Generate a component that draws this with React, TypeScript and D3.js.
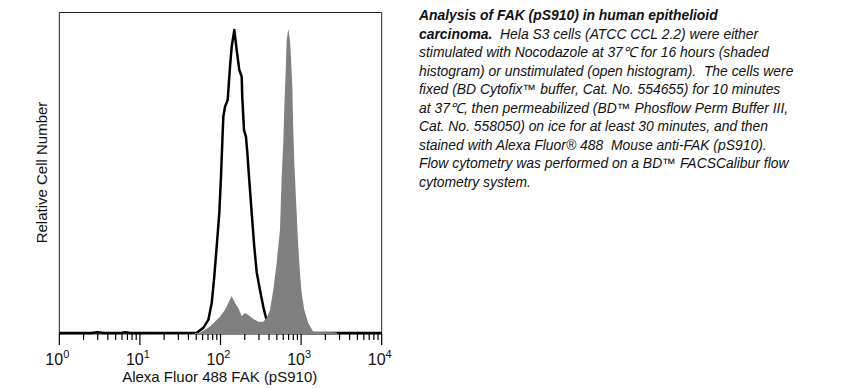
import React from "react";
import * as d3 from "d3";

// Open histogram (unstimulated): fluorescence intensity vs relative count
const openIntensity = [1, 2.5, 3.0, 3.6, 5.8, 6.6, 7.6, 50.7, 61.2, 70.6, 77.8, 83.0, 89.7, 96.6, 101.4, 105.2, 108.4, 113.8, 122.7, 131.2, 137.7, 148.3, 158.9, 171.0, 183.2, 186.2, 195.9, 207.0, 215.3, 225.9, 243.8, 262.4, 281.2, 309.0, 339.6, 363.9, 411.1, 516.4, 10000];
const openCount = [0, 0, 0.25, 0, 0, 0.25, 0, 0.1, 1.6, 4.1, 9.4, 16.6, 27, 37.5, 48.8, 59.4, 67.6, 70.7, 72.8, 83.2, 89.5, 94.7, 88.4, 82.2, 80.1, 73.8, 63.4, 61.3, 56.3, 48.8, 37.5, 27, 19, 13.4, 8.2, 5.1, 1.9, 0, 0];

// Shaded histogram (Nocodazole stimulated)
const shadedIntensity = [48.3, 55.7, 74.1, 98.6, 113.8, 125.0, 137.7, 151.4, 166.3, 183.2, 201.4, 221.3, 255.3, 294.4, 339.6, 374.1, 411.1, 451.9, 497.7, 521.2, 547.0, 574.1, 601.2, 619.4, 644.2, 662.2, 693.4, 727.8, 748.2, 778.0, 799.8, 824.1, 839.5, 881.0, 922.6, 968.3, 1016, 1096, 1227, 1416, 1714, 2630, 2818];
const shadedCount = [0, 0.1, 2.0, 5.1, 7.3, 9.4, 11.6, 9.4, 7.8, 5.3, 6.25, 5.6, 4.4, 3.5, 3.5, 4.7, 7.2, 13.4, 21.9, 27, 32.2, 48.8, 59.4, 70.7, 82.2, 91.6, 95, 91.6, 86.4, 77, 63.4, 53.1, 48.8, 37.5, 27, 18.75, 12.5, 7.2, 3.1, 0.4, 0.3, 0.2, 0];

const majorTicks = [1, 10, 100, 1000, 10000];
const majorExponents = ["0", "1", "2", "3", "4"];
const xTitle = "Alexa Fluor 488 FAK (pS910)";
const yTitle = "Relative Cell Number";

const captionLines: { bold?: string; text: string }[] = [
  { bold: "Analysis of FAK (pS910) in human epithelioid", text: "" },
  { bold: "carcinoma.", text: "  Hela S3 cells (ATCC CCL 2.2) were either" },
  { text: "stimulated with Nocodazole at 37\u2103 for 16 hours (shaded" },
  { text: "histogram) or unstimulated (open histogram).  The cells were" },
  { text: "fixed (BD Cytofix\u2122 buffer, Cat. No. 554655) for 10 minutes" },
  { text: "at 37\u2103, then permeabilized (BD\u2122 Phosflow Perm Buffer III," },
  { text: "Cat. No. 558050) on ice for at least 30 minutes, and then" },
  { text: "stained with Alexa Fluor\u00ae 488  Mouse anti-FAK (pS910)." },
  { text: "Flow cytometry was performed on a BD\u2122 FACSCalibur flow" },
  { text: "cytometry system." },
];

const FONT = "'Liberation Sans', Arial, Helvetica, sans-serif";

export default function App() {
  const W = 843;
  const H = 389;
  const left = 59.3;
  const right = 381.7;
  const top = 12.5;
  const bottom = 334;

  const x = d3.scaleLog().domain([1, 10000]).range([left, right]);
  const y = d3.scaleLinear().domain([0, 100]).range([333, 13]);

  const openPts = openIntensity.map((v, i) => [v, openCount[i]] as [number, number]);
  const shadedPts = shadedIntensity.map((v, i) => [v, shadedCount[i]] as [number, number]);

  const line = d3
    .line<[number, number]>()
    .x((d) => x(d[0]))
    .y((d) => y(d[1]));
  const area = d3
    .area<[number, number]>()
    .x((d) => x(d[0]))
    .y0(bottom + 0.5)
    .y1((d) => y(d[1]));

  const minorTicks: number[] = [];
  for (let p = 0; p < 4; p++) {
    for (let m = 2; m <= 9; m++) minorTicks.push(m * Math.pow(10, p));
  }

  const capX = 419;
  const capY0 = 20;
  const capDy = 18.5;

  return (
    <svg
      width={W}
      height={H}
      style={{ position: "fixed", left: 0, top: 0, background: "#fff" }}
      fontFamily={FONT}
    >
      <rect x={0} y={0} width={W} height={H} fill="#fff" />
      {/* plot frame */}
      <path
        d={`M${left},${bottom}V${top}H${right}V${bottom}`}
        fill="none"
        stroke="#222"
        strokeWidth={1}
      />
      <line x1={left} x2={right} y1={bottom} y2={bottom} stroke="#222" strokeWidth={1} />
      {/* open histogram */}
      <path d={line(openPts) || ""} fill="none" stroke="#000" strokeWidth={2.5} strokeLinejoin="round" />
      {/* shaded histogram */}
      <path d={area(shadedPts) || ""} fill="#808080" stroke="none" />
      {/* ticks */}
      {majorTicks.map((t) => (
        <line key={"M" + t} x1={x(t)} x2={x(t)} y1={bottom} y2={345} stroke="#000" strokeWidth={1.2} />
      ))}
      {minorTicks.map((t) => (
        <line key={"m" + t} x1={x(t)} x2={x(t)} y1={bottom} y2={340} stroke="#000" strokeWidth={1.2} />
      ))}
      {majorTicks.map((t, i) => (
        <text key={"L" + t} x={x(t) - 2} y={365} fontSize={16} textAnchor="middle" fill="#111">
          10
          <tspan fontSize={11} dy={-7}>
            {majorExponents[i]}
          </tspan>
        </text>
      ))}
      <text x={219.7} y={382} fontSize={15} textAnchor="middle" fill="#111">
        {xTitle}
      </text>
      <text
        transform={`translate(47,172.5) rotate(-90)`}
        fontSize={15}
        textAnchor="middle"
        fill="#111"
      >
        {yTitle}
      </text>
      {/* caption */}
      {captionLines.map((l, i) => (
        <text
          key={"c" + i}
          x={capX}
          y={capY0 + i * capDy}
          fontSize={13.9}
          fontStyle="italic"
          fill="#111"
          style={{ whiteSpace: "pre" }}
        >
          {l.bold ? <tspan fontWeight="bold">{l.bold}</tspan> : null}
          {l.text}
        </text>
      ))}
    </svg>
  );
}
